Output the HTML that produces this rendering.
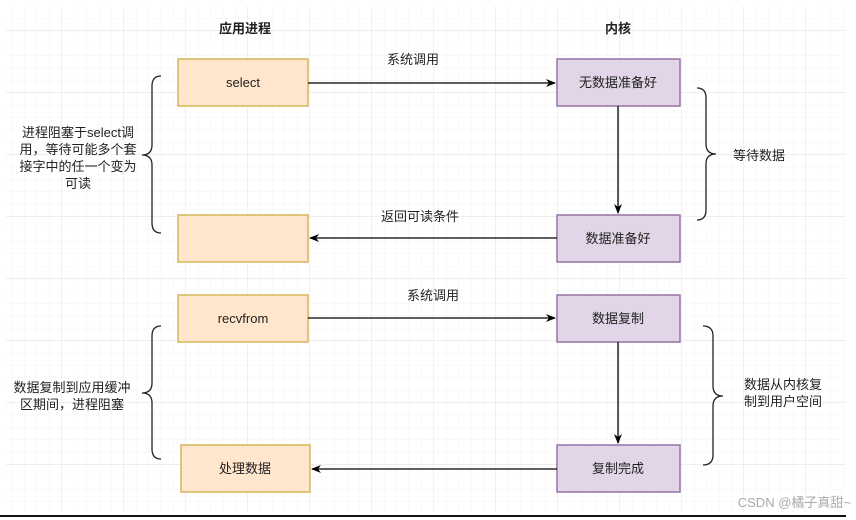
<!DOCTYPE html>
<html><head><meta charset="utf-8"><style>
html,body{margin:0;padding:0;background:#fff;}
svg{display:block;}
text{font-family:"Liberation Sans","Noto Sans CJK SC",sans-serif;font-size:13px;fill:#222;}
</style></head><body>
<svg width="856" height="520" viewBox="0 0 856 520" xmlns="http://www.w3.org/2000/svg">
<defs>
<pattern id="minor" x="0" y="6" width="12.4" height="12.4" patternUnits="userSpaceOnUse">
<path d="M12.4 0V12.4H0" fill="none" stroke="#f3f3f3" stroke-width="1"/>
</pattern>
<pattern id="major" x="0" y="-31" width="62" height="62" patternUnits="userSpaceOnUse">
<path d="M62 0V62H0" fill="none" stroke="#e3e3e3" stroke-width="1"/>
</pattern>
<marker id="ar" markerWidth="10" markerHeight="10" refX="9" refY="5" orient="auto" markerUnits="userSpaceOnUse">
<path d="M0 1L10 5L0 9L3 5Z" fill="#000"/>
</marker>
</defs>
<rect x="6" y="6" width="840" height="506" fill="url(#minor)"/>
<rect x="6" y="6" width="840" height="506" fill="url(#major)"/>
<line x1="0" y1="516" x2="846" y2="516" stroke="#111" stroke-width="2"/>

<text x="245" y="33" text-anchor="middle" font-weight="bold" style="font-weight:bold">应用进程</text>
<text x="618" y="33" text-anchor="middle" style="font-weight:bold">内核</text>

<g stroke="#d6b656" stroke-width="1.5" fill="#ffe6cc">
<rect x="178" y="59" width="130" height="47"/>
<rect x="178" y="215" width="130" height="47"/>
<rect x="178" y="295" width="130" height="47"/>
<rect x="181" y="445" width="129" height="47"/>
</g>
<g stroke="#9673a6" stroke-width="1.5" fill="#e1d5e7">
<rect x="557" y="59" width="123" height="47"/>
<rect x="557" y="215" width="123" height="47"/>
<rect x="557" y="295" width="123" height="47"/>
<rect x="557" y="445" width="123" height="47"/>
</g>
<text x="243" y="87" text-anchor="middle">select</text>
<text x="243" y="323" text-anchor="middle">recvfrom</text>
<text x="245" y="473" text-anchor="middle">处理数据</text>
<text x="618" y="87" text-anchor="middle">无数据准备好</text>
<text x="618" y="243" text-anchor="middle">数据准备好</text>
<text x="618" y="323" text-anchor="middle">数据复制</text>
<text x="618" y="473" text-anchor="middle">复制完成</text>

<g stroke="#000" stroke-width="1.3" fill="none">
<line x1="308" y1="83" x2="555" y2="83" marker-end="url(#ar)"/>
<line x1="618" y1="106" x2="618" y2="213" marker-end="url(#ar)"/>
<line x1="557" y1="238" x2="310" y2="238" marker-end="url(#ar)"/>
<line x1="308" y1="318" x2="555" y2="318" marker-end="url(#ar)"/>
<line x1="618" y1="342" x2="618" y2="443" marker-end="url(#ar)"/>
<line x1="557" y1="469" x2="312" y2="469" marker-end="url(#ar)"/>
</g>
<text x="413" y="64" text-anchor="middle">系统调用</text>
<text x="420" y="221" text-anchor="middle">返回可读条件</text>
<text x="433" y="300" text-anchor="middle">系统调用</text>

<g stroke="#222" stroke-width="1.3" fill="none">
<path d="M161 76 Q152 76 152 86 V145 Q152 155 142 155 Q152 155 152 165 V223 Q152 233 161 233"/>
<path d="M161 326 Q152 326 152 336 V383 Q152 393 142 393 Q152 393 152 403 V449 Q152 459 161 459"/>
<path d="M697 88 Q706 88 706 98 V144 Q706 154 716 154 Q706 154 706 164 V210 Q706 220 697 220"/>
<path d="M703 326 Q713 326 713 336 V386 Q713 396 723 396 Q713 396 713 406 V455 Q713 465 703 465"/>
</g>
<text x="78" y="137" text-anchor="middle">进程阻塞于select调</text>
<text x="78" y="154" text-anchor="middle">用，等待可能多个套</text>
<text x="78" y="171" text-anchor="middle">接字中的任一个变为</text>
<text x="78" y="188" text-anchor="middle">可读</text>
<text x="72" y="392" text-anchor="middle">数据复制到应用缓冲</text>
<text x="72" y="409" text-anchor="middle">区期间，进程阻塞</text>
<text x="759" y="160" text-anchor="middle">等待数据</text>
<text x="783" y="389" text-anchor="middle">数据从内核复</text>
<text x="783" y="406" text-anchor="middle">制到用户空间</text>
<text x="851" y="507" text-anchor="end" style="fill:#aaa;font-size:13px">CSDN @橘子真甜~</text>
</svg>
</body></html>
